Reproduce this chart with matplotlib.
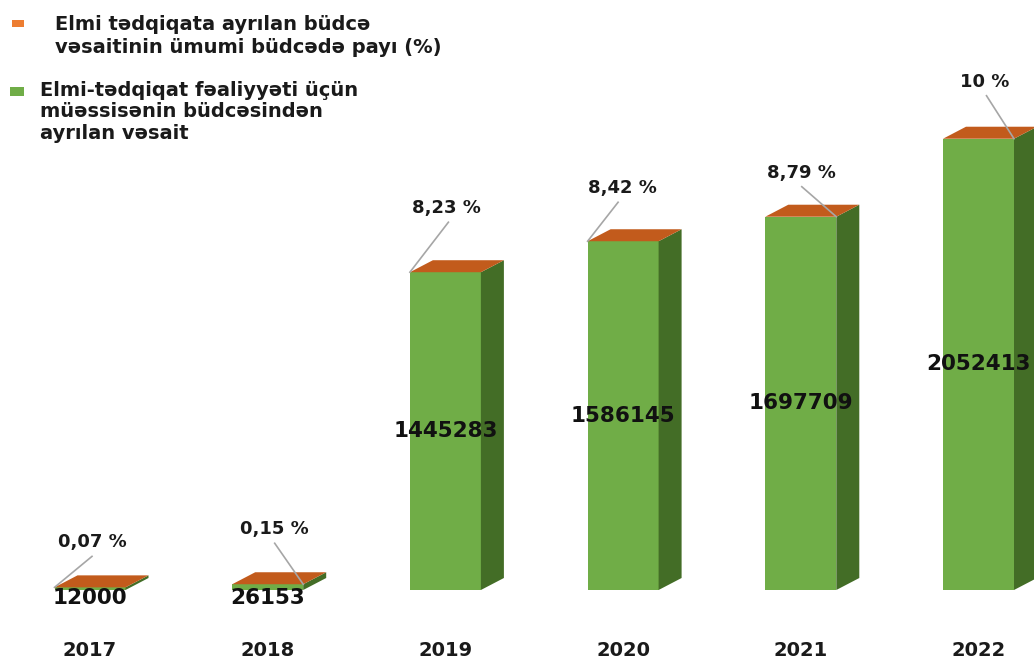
import matplotlib.pyplot as plt
from matplotlib.patches import Polygon, Rectangle

# --- dati ---
years = ['2017', '2018', '2019', '2020', '2021', '2022']
funds = [12000, 26153, 1445283, 1586145, 1697709, 2052413]
shares = [0.07, 0.15, 8.23, 8.42, 8.79, 10]

legend_share = 'Elmi tədqiqata ayrılan büdcə\nvəsaitinin ümumi büdcədə payı (%)'
legend_funds = 'Elmi-tədqiqat fəaliyyəti üçün\nmüəssisənin büdcəsindən\nayrılan vəsait'

# --- layout (pixel) ---
W, H = 1034, 661
STEP = 177.7        # distanza tra le barre
X0 = 90             # centro prima barra
BASE = 590          # linea di base
UPP = 4548          # unità per pixel
# offset etichetta % rispetto al centro-top (dx, dy) e angolo di aggancio della linea
pct_off = [(2, 45), (7, 55), (1, 64), (-1, 53), (1, 44), (6, 57)]
anchor = ['left', 'right', 'left', 'left', 'right', 'right']
line_dx = [0, 0, 2, -4, 0, 2]

C_FRONT = '#70AD47'
C_SIDE = '#436D26'
C_TOP = '#C25B1C'
C_TXT = '#1a1a1a'

fig = plt.figure(figsize=(W / 100, H / 100), dpi=100)
ax = fig.add_axes([0, 0, 1, 1])
ax.set_xlim(-X0 / STEP, (W - X0) / STEP)
ax.set_ylim(-(H - BASE) * UPP, BASE * UPP)
ax.axis('off')

px = 1 / STEP       # 1 pixel in x
py = UPP            # 1 pixel in y
bw = 71 * px
dx, dy = 23 * px, 12 * py

for i, (yr, v, s) in enumerate(zip(years, funds, shares)):
    l, r = i - bw / 2, i + bw / 2
    ax.add_patch(Rectangle((l, 0), bw, v, fc=C_FRONT, ec='none'))
    ax.add_patch(Polygon([(r, 0), (r + dx, dy), (r + dx, v + dy), (r, v)],
                         closed=True, fc=C_SIDE, ec='none'))
    ax.add_patch(Polygon([(l, v), (r, v), (r + dx, v + dy), (l + dx, v + dy)],
                         closed=True, fc=C_TOP, ec='none'))

    # valore
    ty = v / 2 if v > 60 * py else -8 * py
    ax.text(i, ty, str(v), ha='center', va='center', fontsize=15.5,
            fontweight='bold', color='#111111')

    # percentuale con linea guida
    ox, oy = pct_off[i]
    lx, ly = i + ox * px, v + oy * py
    lab = ('%g' % s).replace('.', ',') + ' %'
    ax.text(lx, ly, lab, ha='center', va='center', fontsize=13,
            fontweight='bold', color=C_TXT)
    cx = l if anchor[i] == 'left' else r
    ax.plot([cx, lx + line_dx[i] * px], [v, ly - 14 * py], color='#A6A6A6', lw=1.2)

    # anno
    ax.text(i, -60 * py, yr, ha='center', va='center', fontsize=14,
            fontweight='bold', color=C_TXT)

# legenda
fig.patches.append(Rectangle((12 / W, 1 - 27 / H), 12 / W, 7 / H,
                             transform=fig.transFigure, fc='#ED7D31', ec='none'))
fig.patches.append(Rectangle((10 / W, 1 - 96 / H), 14 / W, 9 / H,
                             transform=fig.transFigure, fc=C_FRONT, ec='none'))
fig.text(55 / W, 1 - 15 / H, legend_share, ha='left', va='top', fontsize=14,
         fontweight='bold', color=C_TXT, linespacing=1.29)
fig.text(40 / W, 1 - 81 / H, legend_funds, ha='left', va='top', fontsize=14,
         fontweight='bold', color=C_TXT, linespacing=1.16)

fig.savefig('out.png', dpi=100)
